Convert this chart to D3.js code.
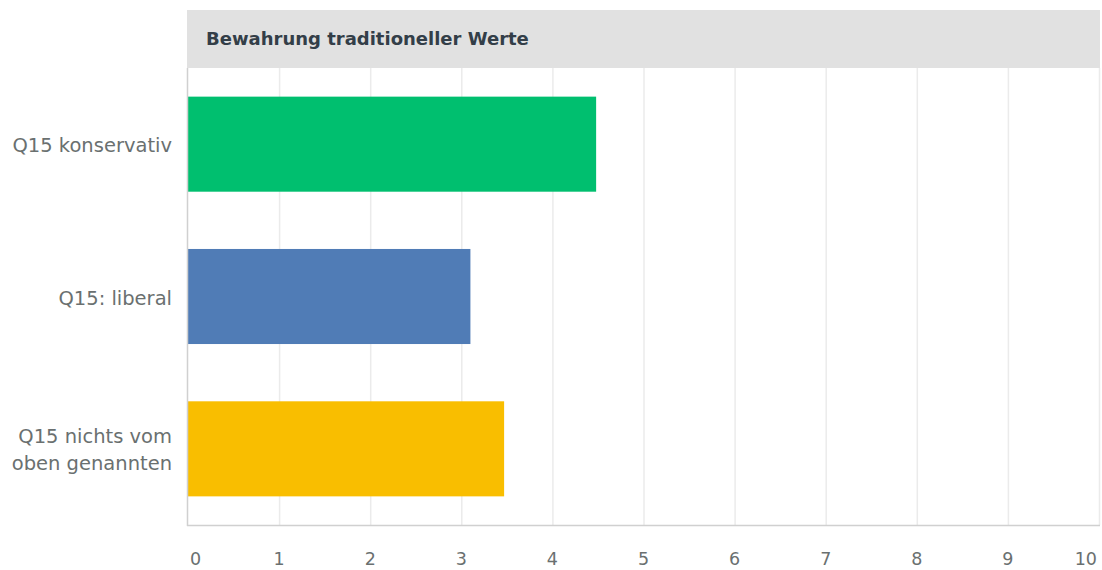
<!doctype html>
<html>
<head>
<meta charset="utf-8">
<script src="https://cdnjs.cloudflare.com/ajax/libs/d3/7.8.5/d3.min.js"></script>
<style>
  body { margin: 0; background: #fff; }
  svg { display: block; font-family: "DejaVu Sans", "Noto Sans", sans-serif; }
</style>
</head>
<body>
<svg width="1102" height="570"></svg>
<script>
// chart data
var categories = [["Q15 konservativ"], ["Q15: liberal"], ["Q15 nichts vom", "oben genannten"]];
var values = [4.48, 3.10, 3.47];
var colors = ["#00bf6f", "#507cb6", "#f9be00"];
var tickValues = [0, 1, 2, 3, 4, 5, 6, 7, 8, 9, 10];
var title = "Bewahrung traditioneller Werte";

var svg = d3.select("svg");
var plotLeft = 188, plotRight = 1099, plotTop = 68, plotBottom = 525;

var x = d3.scaleLinear().domain([0, 10]).range([plotLeft, plotRight]);
var y = d3.scaleBand().domain(d3.range(values.length)).range([plotTop, plotBottom])
    .paddingInner(0.376).paddingOuter(0.188);

// header strip
svg.append("rect")
    .attr("x", plotLeft - 1).attr("y", 10)
    .attr("width", plotRight - plotLeft + 2).attr("height", plotTop - 10)
    .attr("fill", "#e1e1e1");
svg.append("text")
    .attr("x", 206).attr("y", 45)
    .attr("fill", "#333e48")
    .attr("font-size", 18)
    .attr("font-weight", "bold")
    .text(title);

// gridlines
svg.append("g")
    .selectAll("line")
    .data(tickValues.slice(1))
    .enter()
    .append("line")
    .attr("x1", d => x(d) + 0.5).attr("x2", d => x(d) + 0.5)
    .attr("y1", plotTop).attr("y2", plotBottom)
    .attr("stroke", "#ebebeb").attr("stroke-width", 1.5);

// bars
svg.append("g")
    .selectAll("rect")
    .data(values)
    .enter()
    .append("rect")
    .attr("x", x(0))
    .attr("y", (d, i) => y(i))
    .attr("width", d => x(d) - x(0))
    .attr("height", y.bandwidth())
    .attr("fill", (d, i) => colors[i]);

// axis lines
svg.append("line")
    .attr("x1", plotLeft - 0.5).attr("x2", plotLeft - 0.5)
    .attr("y1", plotTop).attr("y2", plotBottom + 1)
    .attr("stroke", "#d0d0d0").attr("stroke-width", 1.5);
svg.append("line")
    .attr("x1", plotLeft - 1).attr("x2", plotRight + 1)
    .attr("y1", plotBottom + 0.5).attr("y2", plotBottom + 0.5)
    .attr("stroke", "#d0d0d0").attr("stroke-width", 1.5);

// x tick labels
svg.append("g")
    .selectAll("text")
    .data(tickValues)
    .enter()
    .append("text")
    .attr("x", (d, i) => i == 0 ? x(d) + 2 : (i == tickValues.length - 1 ? x(d) - 2 : x(d)))
    .attr("y", 565)
    .attr("text-anchor", (d, i) => i == 0 ? "start" : (i == tickValues.length - 1 ? "end" : "middle"))
    .attr("fill", "#6a7070")
    .attr("font-size", 17.5)
    .text(d => d);

// category labels
var labels = svg.append("g")
    .selectAll("text")
    .data(categories)
    .enter()
    .append("text")
    .attr("text-anchor", "end")
    .attr("fill", "#6a7070")
    .attr("font-size", 19.5);

labels.each(function(lines, i) {
    var cy = y(i) + y.bandwidth() / 2;
    var lh = 27;
    var start = cy - (lines.length - 1) * lh / 2 + 8;
    d3.select(this).selectAll("tspan")
        .data(lines)
        .enter()
        .append("tspan")
        .attr("x", 172)
        .attr("y", (d, j) => start + j * lh)
        .text(d => d);
});
</script>
</body>
</html>
